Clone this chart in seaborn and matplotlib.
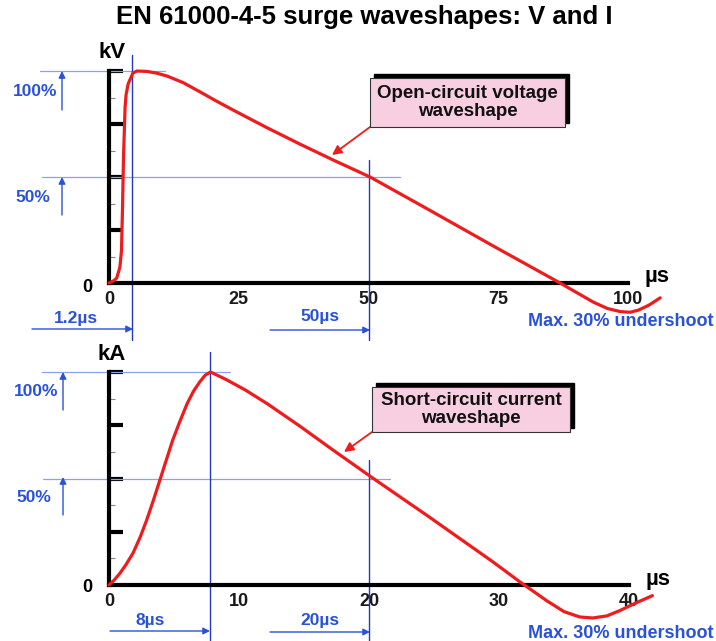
import matplotlib
matplotlib.use("Agg")
import matplotlib.pyplot as plt
import seaborn as sns
from matplotlib.patches import Rectangle, FancyArrowPatch

# ---------------- data ----------------
t_voltage = [0, 1.0, 1.5, 2.1, 2.4, 2.6, 2.8, 3.1, 3.3, 3.7, 4.6, 5.4, 7.3, 9.2,
             11.2, 14.3, 17.5, 20.7, 23.9, 30.4, 36.8, 43.2, 50.3, 61.3, 74.0,
             86.9, 93.3, 96.0, 98.5, 100.4, 102.0, 104.0, 106.2]
v_percent = [0, 1.2, 2.4, 7.5, 15, 35, 60, 83, 89, 94, 99, 100, 99.8, 99,
             97.6, 94.5, 90.2, 85.8, 81.6, 73.3, 65.5, 58, 50, 35, 17.5,
             0, -9, -12, -13.5, -13.8, -12.8, -10.5, -7]

t_current = [0, 0.4, 0.85, 1.3, 1.85, 2.4, 2.9, 3.4, 3.9, 4.4, 4.9, 5.4, 6.0,
             6.5, 7.0, 7.4, 7.8, 9.0, 10.5, 12.2, 14.7, 17.2, 20.1, 24.5, 29.5,
             31.6, 33.7, 35.0, 36.2, 37.2, 38.3, 39.3, 40.5, 41.8]
i_percent = [0, 2.3, 5.6, 9.5, 15, 22.5, 30.5, 39.5, 49, 58.5, 68, 76, 85,
             91, 95.5, 98.5, 100, 96.5, 91.5, 85, 74.5, 63.5, 51, 32.5, 11,
             1.5, -7.5, -12.5, -15, -15.5, -14.5, -12, -8.5, -5]

v_xticks = [0, 25, 50, 75, 100]
i_xticks = [0, 10, 20, 30, 40]
y_major = [25, 50, 75, 100]
y_minor = [12.5, 37.5, 62.5, 87.5]

v_peak_t, v_half_t = 4.4, 50      # reference markers (µs)
i_peak_t, i_half_t = 7.8, 20

title = "EN 61000-4-5 surge waveshapes: V and I"

# ---------------- style ----------------
sns.set_style("white")
plt.rcParams['font.family'] = ['Liberation Sans', 'DejaVu Sans']

RED = '#ee1c1c'
BLUE_TXT = '#2a52d8'
BLUE_V = '#2438c0'
BLUE_H = '#8aa0f0'
PINK = '#f8cfe0'

W, H = 716, 641
fig = plt.figure(figsize=(W / 100, H / 100), dpi=100)
fig.patch.set_facecolor('white')


def fx(px):
    return px / W


def fy(py):
    return 1 - py / H


ax1 = fig.add_axes([fx(109), fy(283), 519 / W, 212 / H])
ax2 = fig.add_axes([fx(109), fy(585), 520 / W, 213 / H])


def style_axes(ax, xticks):
    ax.set_facecolor('none')
    ax.set_xlim(xticks[0], xticks[-1])
    ax.set_ylim(0, 100)
    for s in ['top', 'right']:
        ax.spines[s].set_visible(False)
    for s in ['left', 'bottom']:
        ax.spines[s].set_linewidth(3)
        ax.spines[s].set_color('black')
        ax.spines[s].set_capstyle('projecting')
    ax.set_xticks(xticks)
    ax.set_xticklabels([str(v) for v in xticks])
    ax.set_yticks(y_major)
    ax.set_yticklabels([])
    ax.set_yticks(y_minor, minor=True)
    ax.tick_params(axis='x', which='major', direction='in', length=4, width=2.5,
                   color='black', pad=6, labelsize=13, labelcolor='#1a1a1a')
    ax.tick_params(axis='y', which='major', direction='in', length=10, width=3,
                   color='black', left=True)
    ax.tick_params(axis='y', which='minor', direction='in', length=4, width=0.8,
                   color='#888888', left=True)
    for lbl in ax.get_xticklabels():
        lbl.set_fontweight('bold')
    ax.set_xlabel('')
    ax.set_ylabel('')
    ax.grid(False)


sns.lineplot(x=t_voltage, y=v_percent, ax=ax1, color=RED, linewidth=2.3,
             estimator=None, sort=False)
sns.lineplot(x=t_current, y=i_percent, ax=ax2, color=RED, linewidth=2.3,
             estimator=None, sort=False)
for ax in (ax1, ax2):
    for ln in ax.lines:
        ln.set_clip_on(False)
        ln.set_zorder(5)
        ln.set_solid_joinstyle('round')
        ln.set_solid_capstyle('round')

style_axes(ax1, v_xticks)
style_axes(ax2, i_xticks)

# reference lines (data coordinates)
ax1.plot([-13.3, 10.8], [100, 100], color=BLUE_H, lw=0.9, clip_on=False, zorder=1)
ax1.plot([-12.9, 56], [50, 50], color=BLUE_H, lw=0.9, clip_on=False, zorder=1)
ax1.plot([v_peak_t, v_peak_t], [107.5, -27], color=BLUE_V, lw=1.0, clip_on=False, zorder=1)
ax1.plot([v_half_t, v_half_t], [58, -27], color=BLUE_V, lw=1.0, clip_on=False, zorder=1)

ax2.plot([-5.15, 9.3], [100, 100], color=BLUE_H, lw=0.9, clip_on=False, zorder=1)
ax2.plot([-5.1, 21.6], [50, 50], color=BLUE_H, lw=0.9, clip_on=False, zorder=1)
ax2.plot([i_peak_t, i_peak_t], [109.4, -27], color=BLUE_V, lw=1.0, clip_on=False, zorder=1)
ax2.plot([i_half_t, i_half_t], [58.7, -27], color=BLUE_V, lw=1.0, clip_on=False, zorder=1)


def arrow(x0, y0, x1, y1, color, lw=1.0, ms=10):
    a = FancyArrowPatch((fx(x0), fy(y0)), (fx(x1), fy(y1)),
                        transform=fig.transFigure, arrowstyle='-|>',
                        mutation_scale=ms, color=color, lw=lw,
                        shrinkA=0, shrinkB=0, zorder=6)
    fig.add_artist(a)


def txt(x, y, s, size=13, color='black', ha='center', weight='bold'):
    fig.text(fx(x), fy(y), s, ha=ha, va='center', fontsize=size, color=color,
             fontweight=weight)


# blue dimension arrows
arrow(62, 110, 62, 71, BLUE_TXT)
arrow(62, 215, 62, 177, BLUE_TXT)
arrow(32, 329, 133, 329, BLUE_TXT)
arrow(270, 330, 370, 330, BLUE_TXT)
arrow(63, 410, 63, 372, BLUE_TXT)
arrow(63, 515, 63, 477, BLUE_TXT)
arrow(110, 631, 210, 631, BLUE_TXT)
arrow(270, 632, 370, 632, BLUE_TXT)

# blue labels
txt(35, 91, '100%', 12.5, BLUE_TXT)
txt(33, 198, '50%', 12.5, BLUE_TXT)
txt(76, 318, '1.2\u00b5s', 12.5, BLUE_TXT)
txt(320, 317, '50\u00b5s', 12.5, BLUE_TXT)
txt(714, 321, 'Max. 30% undershoot', 13, BLUE_TXT, ha='right')
txt(36, 391, '100%', 12.5, BLUE_TXT)
txt(34, 498, '50%', 12.5, BLUE_TXT)
txt(150, 620, '8\u00b5s', 12.5, BLUE_TXT)
txt(320, 620, '20\u00b5s', 12.5, BLUE_TXT)
txt(714, 633, 'Max. 30% undershoot', 13, BLUE_TXT, ha='right')

# axis names
txt(112, 53, 'kV', 16)
txt(112, 355, 'kA', 16)
txt(657, 277, '\u00b5s', 16)
txt(658, 579, '\u00b5s', 16)
txt(87, 288, '0', 13)
txt(87, 588, '0', 13)

# title
txt(364, 17, title, 18.5)


# callout boxes
def callout(x0, y0, x1, y1, lines, ax_tip, ay_tip, ax_from, ay_from):
    shadow = Rectangle((fx(x0 + 4), fy(y1 - 4)), (x1 - x0) / W, (y1 - y0) / H,
                       transform=fig.transFigure, facecolor='black',
                       edgecolor='black', zorder=7)
    box = Rectangle((fx(x0), fy(y1)), (x1 - x0) / W, (y1 - y0) / H,
                    transform=fig.transFigure, facecolor=PINK,
                    edgecolor='#333333', lw=0.8, zorder=8)
    fig.add_artist(shadow)
    fig.add_artist(box)
    fig.text(fx((x0 + x1) / 2), fy((y0 + y1) / 2), lines, ha='center', va='center',
             fontsize=13.5, fontweight='bold', color='#111111', linespacing=1.05,
             zorder=9)
    arrow(ax_from, ay_from, ax_tip, ay_tip, RED, lw=1.3, ms=14)


callout(370, 78, 565, 127, 'Open-circuit voltage\nwaveshape', 332, 155, 370, 127)
callout(372, 387, 570, 432, 'Short-circuit current\nwaveshape', 344, 452, 372, 432)

fig.savefig('out.png', dpi=100, facecolor='white')
